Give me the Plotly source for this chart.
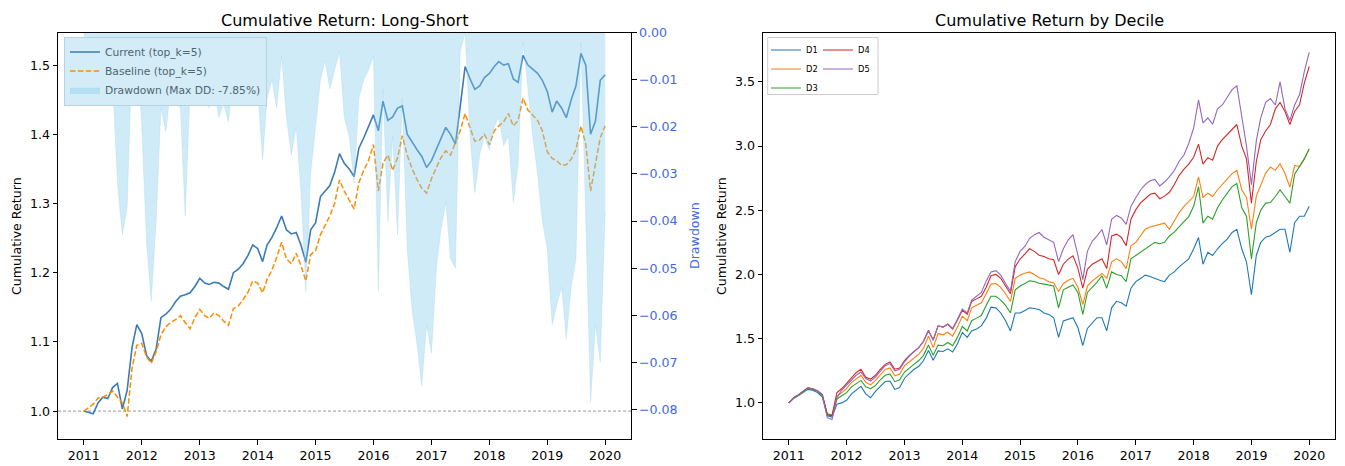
import pandas as pd
import plotly.graph_objects as go

# ---------------- data (monthly readings from the chart) ----------------
month_starts = pd.date_range("2011-01-01", "2020-01-01", freq="MS")
year_ticks = pd.date_range("2011-01-01", "2020-01-01", freq="YS")
year_tick_labels = ["2011", "2012", "2013", "2014", "2015", "2016", "2017", "2018", "2019", "2020"]

current_top5 = [
    1.000, 0.998, 0.996, 1.012, 1.020, 1.018, 1.034, 1.040, 1.003, 1.030, 1.092, 1.125,
    1.112, 1.080, 1.072, 1.090, 1.135, 1.140, 1.147, 1.158, 1.166, 1.168, 1.171, 1.180,
    1.192, 1.185, 1.183, 1.186, 1.185, 1.180, 1.176, 1.200, 1.205, 1.213, 1.225, 1.240,
    1.235, 1.216, 1.240, 1.251, 1.265, 1.282, 1.262, 1.256, 1.258, 1.240, 1.215, 1.262,
    1.272, 1.310, 1.318, 1.326, 1.345, 1.372, 1.358, 1.350, 1.339, 1.380, 1.395, 1.410,
    1.428, 1.405, 1.448, 1.420, 1.425, 1.438, 1.441, 1.400, 1.388, 1.378, 1.368, 1.352,
    1.362, 1.378, 1.395, 1.410, 1.400, 1.386, 1.440, 1.498, 1.480, 1.465, 1.470, 1.482,
    1.488, 1.498, 1.505, 1.500, 1.502, 1.480, 1.475, 1.514, 1.500, 1.494, 1.488, 1.478,
    1.462, 1.432, 1.448, 1.438, 1.424, 1.450, 1.470, 1.517, 1.500, 1.400, 1.419, 1.478,
    1.486,
]
baseline_top5 = [
    1.000, 1.006, 1.010, 1.019, 1.020, 1.024, 1.029, 1.020, 1.012, 0.992, 1.062, 1.095,
    1.098, 1.078, 1.069, 1.086, 1.110, 1.122, 1.128, 1.132, 1.138, 1.128, 1.119, 1.135,
    1.147, 1.138, 1.134, 1.142, 1.138, 1.130, 1.124, 1.148, 1.152, 1.161, 1.172, 1.188,
    1.185, 1.171, 1.190, 1.204, 1.222, 1.244, 1.220, 1.213, 1.228, 1.210, 1.188, 1.226,
    1.232, 1.255, 1.268, 1.282, 1.300, 1.334, 1.318, 1.305, 1.292, 1.330, 1.348, 1.362,
    1.385, 1.318, 1.358, 1.370, 1.348, 1.366, 1.398, 1.370, 1.350, 1.335, 1.322, 1.315,
    1.336, 1.352, 1.366, 1.376, 1.370, 1.388, 1.405, 1.430, 1.408, 1.390, 1.392, 1.400,
    1.385, 1.405, 1.412, 1.418, 1.430, 1.412, 1.420, 1.452, 1.435, 1.428, 1.420, 1.405,
    1.375, 1.365, 1.362, 1.355, 1.356, 1.364, 1.378, 1.412, 1.386, 1.318, 1.360, 1.395,
    1.412,
]
drawdown = [
    0.000, -0.008, -0.011, -0.006, -0.009, -0.007, -0.010, -0.032, -0.043, -0.037, -0.004, -0.002,
    -0.020, -0.045, -0.057, -0.040, -0.016, -0.021, -0.012, -0.015, -0.016, -0.039, -0.012, -0.010,
    -0.006, -0.014, -0.016, -0.012, -0.018, -0.015, -0.019, -0.008, -0.006, -0.010, -0.005, -0.004,
    -0.012, -0.027, -0.014, -0.010, -0.016, -0.005, -0.018, -0.026, -0.020, -0.034, -0.055, -0.030,
    -0.020, -0.010, -0.006, -0.012, -0.008, -0.004, -0.018, -0.022, -0.032, -0.014, -0.010, -0.008,
    -0.005, -0.055, -0.012, -0.040, -0.022, -0.043, -0.014, -0.046, -0.059, -0.066, -0.075, -0.062,
    -0.068, -0.050, -0.042, -0.036, -0.048, -0.050, -0.004, 0.000, -0.022, -0.034, -0.026, -0.022,
    -0.025, -0.020, -0.018, -0.024, -0.022, -0.036, -0.028, -0.002, -0.012, -0.022, -0.030, -0.040,
    -0.046, -0.062, -0.058, -0.054, -0.065, -0.054, -0.048, -0.002, -0.040, -0.0785, -0.062, -0.070,
    -0.038,
]

decile_names = ["D1", "D2", "D3", "D4", "D5"]
d1 = [
    1.000, 1.036, 1.055, 1.080, 1.105, 1.098, 1.080, 1.045, 0.900, 0.890, 0.990, 1.000,
    1.020, 1.070, 1.100, 1.128, 1.070, 1.040, 1.090, 1.130, 1.166, 1.170, 1.105, 1.120,
    1.192, 1.230, 1.260, 1.285, 1.330, 1.408, 1.332, 1.405, 1.400, 1.421, 1.396, 1.460,
    1.549, 1.510, 1.560, 1.575, 1.600, 1.660, 1.745, 1.740, 1.700, 1.640, 1.560, 1.700,
    1.700, 1.720, 1.740, 1.735, 1.727, 1.700, 1.689, 1.663, 1.510, 1.638, 1.650, 1.663,
    1.587, 1.446, 1.580, 1.620, 1.663, 1.663, 1.561, 1.740, 1.791, 1.780, 1.753, 1.893,
    1.944, 1.970, 1.995, 1.985, 1.969, 1.955, 1.944, 1.995, 2.020, 2.059, 2.090, 2.122,
    2.199, 2.288, 2.080, 2.173, 2.148, 2.200, 2.240, 2.276, 2.327, 2.352, 2.200, 2.097,
    1.842, 2.148, 2.250, 2.290, 2.301, 2.330, 2.352, 2.352, 2.173, 2.403, 2.454, 2.454,
    2.531,
]
d2 = [
    1.000, 1.040, 1.060, 1.088, 1.115, 1.108, 1.092, 1.060, 0.910, 0.900, 1.050, 1.080,
    1.112, 1.160, 1.190, 1.215, 1.160, 1.140, 1.175, 1.220, 1.260, 1.272, 1.210, 1.225,
    1.290, 1.320, 1.350, 1.380, 1.425, 1.520, 1.430, 1.540, 1.530, 1.550, 1.520, 1.590,
    1.675, 1.640, 1.740, 1.760, 1.780, 1.850, 1.925, 1.930, 1.900, 1.850, 1.790, 1.970,
    1.995, 2.010, 2.020, 2.000, 1.975, 1.965, 1.944, 1.935, 1.867, 1.930, 1.955, 1.970,
    1.900, 1.765, 1.910, 1.950, 1.980, 2.008, 1.970, 2.097, 2.122, 2.100, 2.046, 2.224,
    2.250, 2.300, 2.352, 2.370, 2.380, 2.390, 2.400, 2.352, 2.420, 2.480, 2.530, 2.570,
    2.607, 2.760, 2.600, 2.633, 2.607, 2.660, 2.700, 2.740, 2.786, 2.811, 2.660, 2.600,
    2.352, 2.610, 2.700, 2.790, 2.837, 2.811, 2.862, 2.786, 2.680, 2.850, 2.840, 2.900,
    2.977,
]
d3 = [
    1.000, 1.038, 1.058, 1.085, 1.112, 1.105, 1.090, 1.055, 0.915, 0.905, 1.030, 1.055,
    1.080, 1.125, 1.150, 1.175, 1.125, 1.110, 1.135, 1.180, 1.215, 1.225, 1.165, 1.180,
    1.240, 1.275, 1.300, 1.330, 1.370, 1.450, 1.370, 1.450, 1.445, 1.470, 1.445, 1.510,
    1.595, 1.560, 1.640, 1.660, 1.680, 1.760, 1.830, 1.830, 1.800, 1.760, 1.700, 1.880,
    1.910, 1.930, 1.950, 1.945, 1.931, 1.925, 1.918, 1.910, 1.740, 1.880, 1.900, 1.918,
    1.860, 1.689, 1.860, 1.900, 1.940, 1.990, 1.893, 2.020, 2.000, 1.990, 1.944, 2.122,
    2.148, 2.170, 2.199, 2.220, 2.250, 2.240, 2.250, 2.300, 2.330, 2.370, 2.410, 2.450,
    2.531, 2.684, 2.400, 2.454, 2.430, 2.520, 2.580, 2.633, 2.684, 2.709, 2.520, 2.454,
    2.122, 2.403, 2.500, 2.556, 2.560, 2.607, 2.658, 2.607, 2.556, 2.780, 2.837, 2.900,
    2.977,
]
d4 = [
    1.000, 1.040, 1.062, 1.090, 1.118, 1.110, 1.095, 1.065, 0.905, 0.900, 1.080, 1.110,
    1.155, 1.200, 1.235, 1.262, 1.200, 1.185, 1.215, 1.260, 1.300, 1.318, 1.262, 1.272,
    1.330, 1.370, 1.400, 1.430, 1.480, 1.565, 1.490, 1.600, 1.590, 1.612, 1.575, 1.645,
    1.720, 1.690, 1.790, 1.810, 1.830, 1.900, 1.990, 2.000, 1.970, 1.910, 1.850, 2.060,
    2.120, 2.160, 2.200, 2.180, 2.150, 2.140, 2.122, 2.115, 2.000, 2.080, 2.120, 2.145,
    2.050, 1.893, 2.040, 2.080, 2.100, 2.122, 2.046, 2.300, 2.314, 2.290, 2.224, 2.430,
    2.505, 2.560, 2.590, 2.625, 2.633, 2.590, 2.610, 2.640, 2.700, 2.770, 2.820, 2.860,
    2.913, 3.015, 2.860, 2.910, 2.890, 3.000, 3.050, 3.090, 3.130, 3.168, 3.000, 2.900,
    2.556, 2.880, 3.050, 3.117, 3.168, 3.290, 3.340, 3.270, 3.168, 3.270, 3.321, 3.490,
    3.620,
]
d5 = [
    1.000, 1.040, 1.062, 1.090, 1.118, 1.110, 1.095, 1.060, 0.885, 0.870, 1.040, 1.100,
    1.140, 1.185, 1.215, 1.240, 1.190, 1.170, 1.200, 1.245, 1.290, 1.306, 1.250, 1.262,
    1.320, 1.365, 1.400, 1.430, 1.480, 1.560, 1.490, 1.600, 1.590, 1.615, 1.580, 1.650,
    1.730, 1.700, 1.800, 1.830, 1.860, 1.950, 2.020, 2.030, 1.995, 1.930, 1.870, 2.100,
    2.180, 2.220, 2.280, 2.310, 2.327, 2.290, 2.270, 2.250, 2.100, 2.200, 2.270, 2.310,
    2.150, 1.960, 2.180, 2.260, 2.300, 2.350, 2.230, 2.430, 2.460, 2.440, 2.390, 2.530,
    2.600, 2.660, 2.700, 2.730, 2.740, 2.690, 2.720, 2.760, 2.810, 2.880, 2.930, 3.020,
    3.140, 3.360, 3.180, 3.220, 3.170, 3.290, 3.320, 3.380, 3.440, 3.470, 3.220, 3.000,
    2.700, 3.040, 3.220, 3.340, 3.370, 3.320, 3.500, 3.290, 3.200, 3.320, 3.400, 3.580,
    3.730,
]
decile_values = [d1, d2, d3, d4, d5]
reference_level = 1.0

# ---------------- styling ----------------
W, H = 1345, 466
FONT = "DejaVu Sans"
TICK = 12.6
decile_colors = ["#1f77b4", "#ff7f0e", "#2ca02c", "#d62728", "#9467bd"]
dd_axis_color = "#4169e1"


def fx(p):
    return p / W


def fy(p):
    return 1 - p / H


left_dom = [fx(58), fx(631)]
right_dom = [fx(763), fx(1335)]
y_dom = [fy(439), fy(25)]
x_range = ["2010-07-22", "2020-06-12"]

fig = go.Figure()

fig.add_trace(go.Scatter(
    x=month_starts, y=current_top5, mode="lines", name="Current (top_k=5)",
    line=dict(color="#3b7bb4", width=1.6), xaxis="x", yaxis="y", legend="legend",
))
fig.add_trace(go.Scatter(
    x=month_starts, y=baseline_top5, mode="lines", name="Baseline (top_k=5)",
    line=dict(color="#ff8c00", width=1.5, dash="5.5px,2.4px"), xaxis="x", yaxis="y", legend="legend",
))
max_dd = min(drawdown)
fig.add_trace(go.Scatter(
    x=month_starts, y=drawdown, mode="lines", fill="tozeroy",
    name=f"Drawdown (Max DD: {max_dd * 100:.2f}%)",
    line=dict(color="rgba(135,206,235,0.4)", width=0.6),
    fillcolor="rgba(135,206,235,0.4)", xaxis="x", yaxis="y2", legend="legend",
))

for name, vals, col in zip(decile_names, decile_values, decile_colors):
    fig.add_trace(go.Scatter(
        x=month_starts, y=vals, mode="lines", name=name,
        line=dict(color=col, width=1.1), xaxis="x2", yaxis="y3",
        legend="legend2" if name in ("D1", "D2", "D3") else "legend3",
    ))

axis_common = dict(
    showline=True, linecolor="black", linewidth=1, ticks="outside", ticklen=4.5,
    tickwidth=1, tickcolor="black", showgrid=False, zeroline=False,
    tickfont=dict(family=FONT, size=TICK, color="black"),
)

fig.update_layout(
    width=W, height=H, margin=dict(l=0, r=0, t=0, b=0),
    paper_bgcolor="white", plot_bgcolor="white", showlegend=True,
    font=dict(family=FONT, color="black"),
    xaxis=dict(domain=left_dom, anchor="y", type="date", range=x_range,
               tickvals=year_ticks, ticktext=year_tick_labels, mirror=True, **axis_common),
    yaxis=dict(domain=y_dom, anchor="x", range=[0.959, 1.547], dtick=0.1, tick0=1.0,
               tickformat=".1f", mirror=True, **axis_common),
    yaxis2=dict(overlaying="y", side="right", anchor="x", range=[max_dd * 1.1, 0],
                tickvals=[0.0, -0.01, -0.02, -0.03, -0.04, -0.05, -0.06, -0.07, -0.08],
                tickformat=".2f",
                **{**axis_common, "tickfont": dict(family=FONT, size=TICK, color=dd_axis_color)}),
    xaxis2=dict(domain=right_dom, anchor="y3", type="date", range=x_range,
                tickvals=year_ticks, ticktext=year_tick_labels, mirror=True, **axis_common),
    yaxis3=dict(domain=y_dom, anchor="x2", range=[0.715, 3.884], dtick=0.5, tick0=1.0,
                tickformat=".1f", mirror=True, **axis_common),
    legend=dict(x=fx(64), y=fy(29), xanchor="left", yanchor="top",
                bgcolor="#d3ecf7", bordercolor="#b8d3de", borderwidth=1,
                font=dict(family=FONT, size=10.7, color="#4d6670")),
    legend2=dict(x=fx(766), y=fy(28), xanchor="left", yanchor="top",
                 bgcolor="rgba(0,0,0,0)", borderwidth=0,
                 font=dict(family=FONT, size=8.3, color="black")),
    legend3=dict(x=fx(818), y=fy(28), xanchor="left", yanchor="top",
                 bgcolor="rgba(0,0,0,0)", borderwidth=0,
                 font=dict(family=FONT, size=8.3, color="black")),
    shapes=[
        dict(type="line", xref="x domain", x0=0, x1=1, yref="y", y0=reference_level, y1=reference_level,
             line=dict(color="gray", width=0.8, dash="3px,2px"), layer="below"),
        dict(type="rect", xref="paper", yref="paper", x0=fx(767.7), x1=fx(878),
             y0=fy(88), y1=fy(30), line=dict(color="#cccccc", width=1), fillcolor="white", layer="above"),
    ],
    annotations=[
        dict(text="Cumulative Return: Long-Short", x=fx(344.5), y=fy(12.5), xref="paper", yref="paper",
             showarrow=False, xanchor="center", yanchor="middle", font=dict(family=FONT, size=16, color="black")),
        dict(text="Cumulative Return by Decile", x=fx(1049), y=fy(12.5), xref="paper", yref="paper",
             showarrow=False, xanchor="center", yanchor="middle", font=dict(family=FONT, size=16, color="black")),
        dict(text="Cumulative Return", x=fx(16), y=fy(232), xref="paper", yref="paper", textangle=-90,
             showarrow=False, xanchor="center", yanchor="middle", font=dict(family=FONT, size=TICK, color="black")),
        dict(text="Drawdown", x=fx(694), y=fy(232), xref="paper", yref="paper", textangle=-90,
             showarrow=False, xanchor="center", yanchor="middle", font=dict(family=FONT, size=TICK, color=dd_axis_color)),
        dict(text="Cumulative Return", x=fx(721), y=fy(232), xref="paper", yref="paper", textangle=-90,
             showarrow=False, xanchor="center", yanchor="middle", font=dict(family=FONT, size=TICK, color="black")),
    ],
)

page_fix = (
    "document.documentElement.style.margin='0';"
    "document.body.style.margin='0';document.body.style.overflow='hidden';"
    "var gd=document.getElementById('{plot_id}');"
    "gd.style.position='absolute';gd.style.left='0px';gd.style.top='0px';"
)
fig.write_html("out.html", post_script=page_fix, config={"displayModeBar": False})
